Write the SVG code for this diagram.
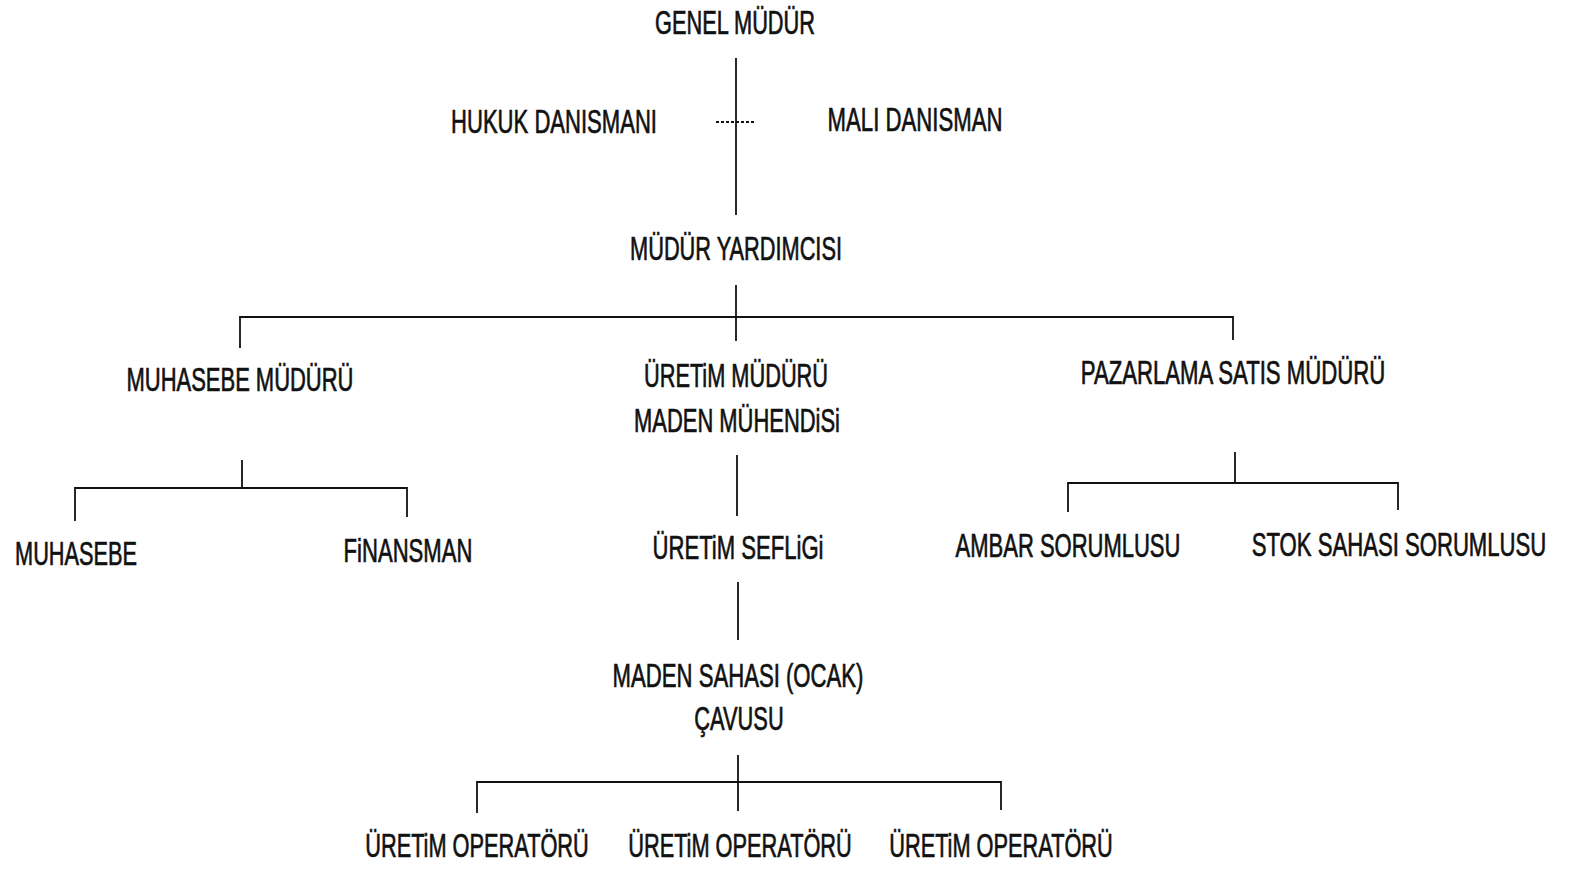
<svg xmlns="http://www.w3.org/2000/svg" width="1571" height="870" viewBox="0 0 1571 870">
<style>
text{font-family:"Liberation Sans",Arial,sans-serif;font-size:34px;fill:#111;stroke:#111;stroke-width:0.7;text-anchor:middle}
.c line,.c path{stroke:#111;stroke-width:1.8;fill:none}
.d{stroke-dasharray:3 2}
</style>
<rect width="1571" height="870" fill="#fff"/>
<g class="c" id="connectors">
<line x1="736" y1="58" x2="736" y2="215"/>
<line class="d" x1="716" y1="122" x2="754" y2="122"/>
<line x1="736" y1="285" x2="736" y2="341"/>
<path d="M240 348V317H1233V340"/>
<path d="M242 460V488"/>
<path d="M75 521V488H407V517"/>
<line x1="737" y1="455" x2="737" y2="516"/>
<line x1="1235" y1="452" x2="1235" y2="483"/>
<path d="M1068 512V483H1398V510"/>
<line x1="738" y1="582" x2="738" y2="640"/>
<line x1="738" y1="755" x2="738" y2="811"/>
<path d="M477 813V782H1001V810"/>
</g>
<g id="genel"><text transform="translate(735,34) scale(0.64,1)">GENEL MÜDÜR</text></g>
<g id="hukuk"><text transform="translate(554,133) scale(0.649,1)">HUKUK DANISMANI</text></g>
<g id="mali"><text transform="translate(915,131) scale(0.652,1)">MALI DANISMAN</text></g>
<g id="yard"><text transform="translate(736,260) scale(0.64,1)">MÜDÜR YARDIMCISI</text></g>
<g id="muhmud"><text transform="translate(240,391) scale(0.646,1)">MUHASEBE MÜDÜRÜ</text></g>
<g id="uretmud"><text transform="translate(736,387) scale(0.64,1)">ÜRETiM MÜDÜRÜ</text><text transform="translate(737,432) scale(0.645,1)">MADEN MÜHENDiSi</text></g>
<g id="paz"><text transform="translate(1233,384) scale(0.652,1)">PAZARLAMA SATIS MÜDÜRÜ</text></g>
<g id="muh"><text transform="translate(76,565) scale(0.639,1)">MUHASEBE</text></g>
<g id="fin"><text transform="translate(408,562) scale(0.65,1)">FiNANSMAN</text></g>
<g id="sef"><text transform="translate(738,559) scale(0.65,1)">ÜRETiM SEFLiGi</text></g>
<g id="ambar"><text transform="translate(1068,557) scale(0.647,1)">AMBAR SORUMLUSU</text></g>
<g id="stok"><text transform="translate(1399,556) scale(0.651,1)">STOK SAHASI SORUMLUSU</text></g>
<g id="cavus"><text transform="translate(738,687) scale(0.651,1)">MADEN SAHASI (OCAK)</text><text transform="translate(739,730) scale(0.642,1)">ÇAVUSU</text></g>
<g id="op1"><text transform="translate(477,857) scale(0.64,1)">ÜRETiM OPERATÖRÜ</text></g>
<g id="op2"><text transform="translate(740,857) scale(0.64,1)">ÜRETiM OPERATÖRÜ</text></g>
<g id="op3"><text transform="translate(1001,857) scale(0.64,1)">ÜRETiM OPERATÖRÜ</text></g>
</svg>
